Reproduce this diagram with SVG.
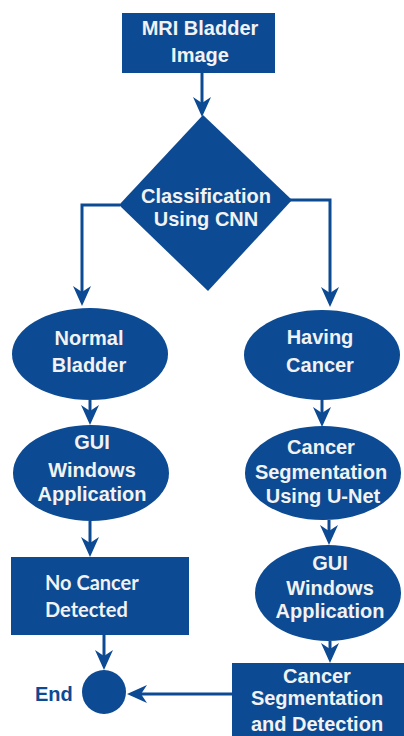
<svg xmlns="http://www.w3.org/2000/svg" width="404" height="736" viewBox="0 0 404 736">
<defs>
<marker id="ah" viewBox="0 0 20 18" refX="16" refY="9" markerWidth="20" markerHeight="18" markerUnits="userSpaceOnUse" orient="auto">
<path d="M0,0 L20,9 L0,18 L6,9 Z" fill="#0c4a93"/>
</marker>
<style>
.shape{fill:#0c4a93;}
.t{font-family:"Liberation Sans",Arial,sans-serif;font-weight:bold;font-size:20px;fill:#f2f2f2;text-anchor:middle;}
.c{font-family:Lato,"Liberation Sans",sans-serif;font-weight:bold;font-size:20px;fill:#f2f2f2;}
.lbl{font-family:"Liberation Sans",Arial,sans-serif;font-weight:bold;font-size:20px;fill:#0c4a93;}
.conn{fill:none;stroke:#0c4a93;stroke-width:3;marker-end:url(#ah);}
</style>
</defs>
<rect width="404" height="736" fill="#ffffff"/>
<g id="connectors">
<path class="conn" d="M202,73 V113"/>
<path class="conn" d="M120,205 H82 V302"/>
<path class="conn" d="M290,200 H330 V303"/>
<path class="conn" d="M90,400 V421"/>
<path class="conn" d="M322,400 V423"/>
<path class="conn" d="M90,521 V553"/>
<path class="conn" d="M329,520 V541"/>
<path class="conn" d="M104,635 V666"/>
<path class="conn" d="M330,641 V659"/>
<path class="conn" d="M232,694 H131"/>
</g>
<g id="mri">
<rect class="shape" x="122" y="13" width="153" height="60"/>
<text class="t" x="200" y="35">MRI Bladder</text>
<text class="t" x="200" y="62">Image</text>
</g>
<g id="classification">
<polygon class="shape" points="203,115 292,200 208,291 119,205"/>
<text class="t" x="206" y="203">Classification</text>
<text class="t" x="206" y="226">Using CNN</text>
</g>
<g id="normal">
<ellipse class="shape" cx="90" cy="354" rx="78" ry="46"/>
<text class="t" x="89" y="345">Normal</text>
<text class="t" x="89" y="372">Bladder</text>
</g>
<g id="having">
<ellipse class="shape" cx="322" cy="355" rx="78" ry="45"/>
<text class="t" x="320" y="344">Having</text>
<text class="t" x="320" y="372">Cancer</text>
</g>
<g id="gui1">
<ellipse class="shape" cx="91" cy="473" rx="78" ry="48"/>
<text class="t" x="92" y="449">GUI</text>
<text class="t" x="92" y="477">Windows</text>
<text class="t" x="92" y="501">Application</text>
</g>
<g id="segment">
<ellipse class="shape" cx="323" cy="473" rx="78" ry="47"/>
<text class="t" x="321" y="454">Cancer</text>
<text class="t" x="321" y="479">Segmentation</text>
<text class="t" x="323" y="503">Using U-Net</text>
</g>
<g id="gui2">
<ellipse class="shape" cx="328" cy="593" rx="73" ry="48"/>
<text class="t" x="330" y="570">GUI</text>
<text class="t" x="330" y="595">Windows</text>
<text class="t" x="330" y="618">Application</text>
</g>
<g id="nocancer">
<rect class="shape" x="11" y="557" width="178" height="78"/>
<text class="c" x="45" y="590">No Cancer</text>
<text class="c" x="45" y="617">Detected</text>
</g>
<g id="end">
<circle class="shape" cx="104" cy="692" r="22"/>
<text class="lbl" x="35" y="701">End</text>
</g>
<g id="detection">
<rect class="shape" x="232" y="663" width="172" height="80"/>
<text class="t" x="317" y="683">Cancer</text>
<text class="t" x="317" y="705">Segmentation</text>
<text class="t" x="317" y="731">and Detection</text>
</g>
</svg>
